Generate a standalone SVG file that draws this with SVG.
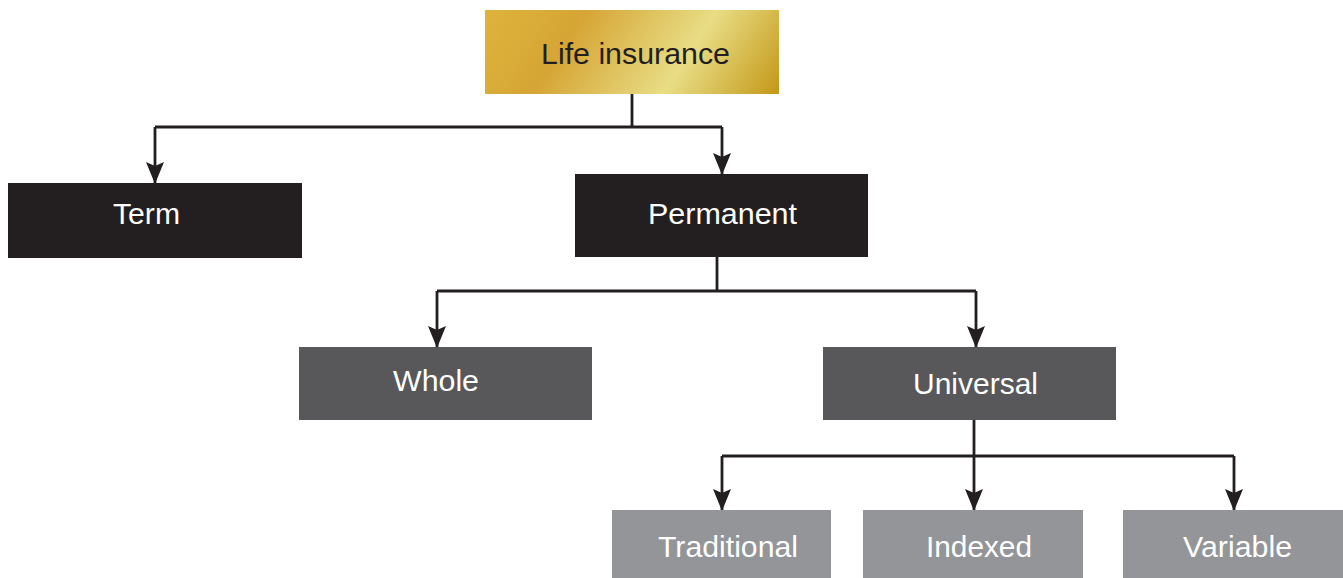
<svg xmlns="http://www.w3.org/2000/svg" width="1343" height="578" viewBox="0 0 1343 578">
<style>
.lbl{font-family:"Liberation Sans",Arial,sans-serif;font-size:29px;text-anchor:middle}
.dark{fill:#231f20}
.mid{fill:#58585a}
.light{fill:#939598}
.w{fill:#ffffff}
.k{fill:#231f20}
.conn path{fill:none;stroke:#231f20;stroke-width:2.8}
</style>
<defs>
<linearGradient id="gold" x1="500" y1="-40" x2="780" y2="140" gradientUnits="userSpaceOnUse">
<stop offset="0" stop-color="#dfb63e"/>
<stop offset="0.3" stop-color="#d6a535"/>
<stop offset="0.63" stop-color="#e8dd85"/>
<stop offset="0.92" stop-color="#c49818"/>
<stop offset="1" stop-color="#c09212"/>
</linearGradient>
<marker id="ah" markerUnits="userSpaceOnUse" markerWidth="22" markerHeight="18" refX="21" refY="9" orient="auto" viewBox="0 0 22 18">
<path d="M0 0 L4 9 L0 18 L22 9 Z" fill="#231f20"/>
</marker>
</defs>
<g class="conn" id="connectors">
<path d="M632 94 V127"/>
<path d="M155 127 H722"/>
<path d="M155 127 V183" marker-end="url(#ah)"/>
<path d="M722 127 V174" marker-end="url(#ah)"/>
<path d="M717 257 V291"/>
<path d="M437 291 H976"/>
<path d="M437 291 V347" marker-end="url(#ah)"/>
<path d="M976 291 V347" marker-end="url(#ah)"/>
<path d="M974 420 V456"/>
<path d="M722 456 H1234"/>
<path d="M722 456 V510" marker-end="url(#ah)"/>
<path d="M974 456 V510" marker-end="url(#ah)"/>
<path d="M1234 456 V510" marker-end="url(#ah)"/>
</g>
<g id="life">
<rect x="485" y="10" width="294" height="84" fill="url(#gold)"/>
<text class="lbl k" x="635.5" y="64" textLength="189" lengthAdjust="spacingAndGlyphs">Life insurance</text>
</g>
<g id="term">
<rect class="dark" x="8" y="183" width="294" height="75"/>
<text class="lbl w" x="146.5" y="224" textLength="67" lengthAdjust="spacingAndGlyphs">Term</text>
</g>
<g id="permanent">
<rect class="dark" x="575" y="174" width="293" height="83"/>
<text class="lbl w" x="722.5" y="224" textLength="149" lengthAdjust="spacingAndGlyphs">Permanent</text>
</g>
<g id="whole">
<rect class="mid" x="299" y="347" width="293" height="73"/>
<text class="lbl w" x="436" y="391" textLength="86" lengthAdjust="spacingAndGlyphs">Whole</text>
</g>
<g id="universal">
<rect class="mid" x="823" y="347" width="293" height="73"/>
<text class="lbl w" x="975.5" y="394" textLength="125" lengthAdjust="spacingAndGlyphs">Universal</text>
</g>
<g id="traditional">
<rect class="light" x="612" y="510" width="219" height="68"/>
<text class="lbl w" x="728" y="557" textLength="140" lengthAdjust="spacingAndGlyphs">Traditional</text>
</g>
<g id="indexed">
<rect class="light" x="863" y="510" width="220" height="68"/>
<text class="lbl w" x="979" y="557" textLength="106" lengthAdjust="spacingAndGlyphs">Indexed</text>
</g>
<g id="variable">
<rect class="light" x="1123" y="510" width="220" height="68"/>
<text class="lbl w" x="1237.5" y="557" textLength="109" lengthAdjust="spacingAndGlyphs">Variable</text>
</g>
</svg>
